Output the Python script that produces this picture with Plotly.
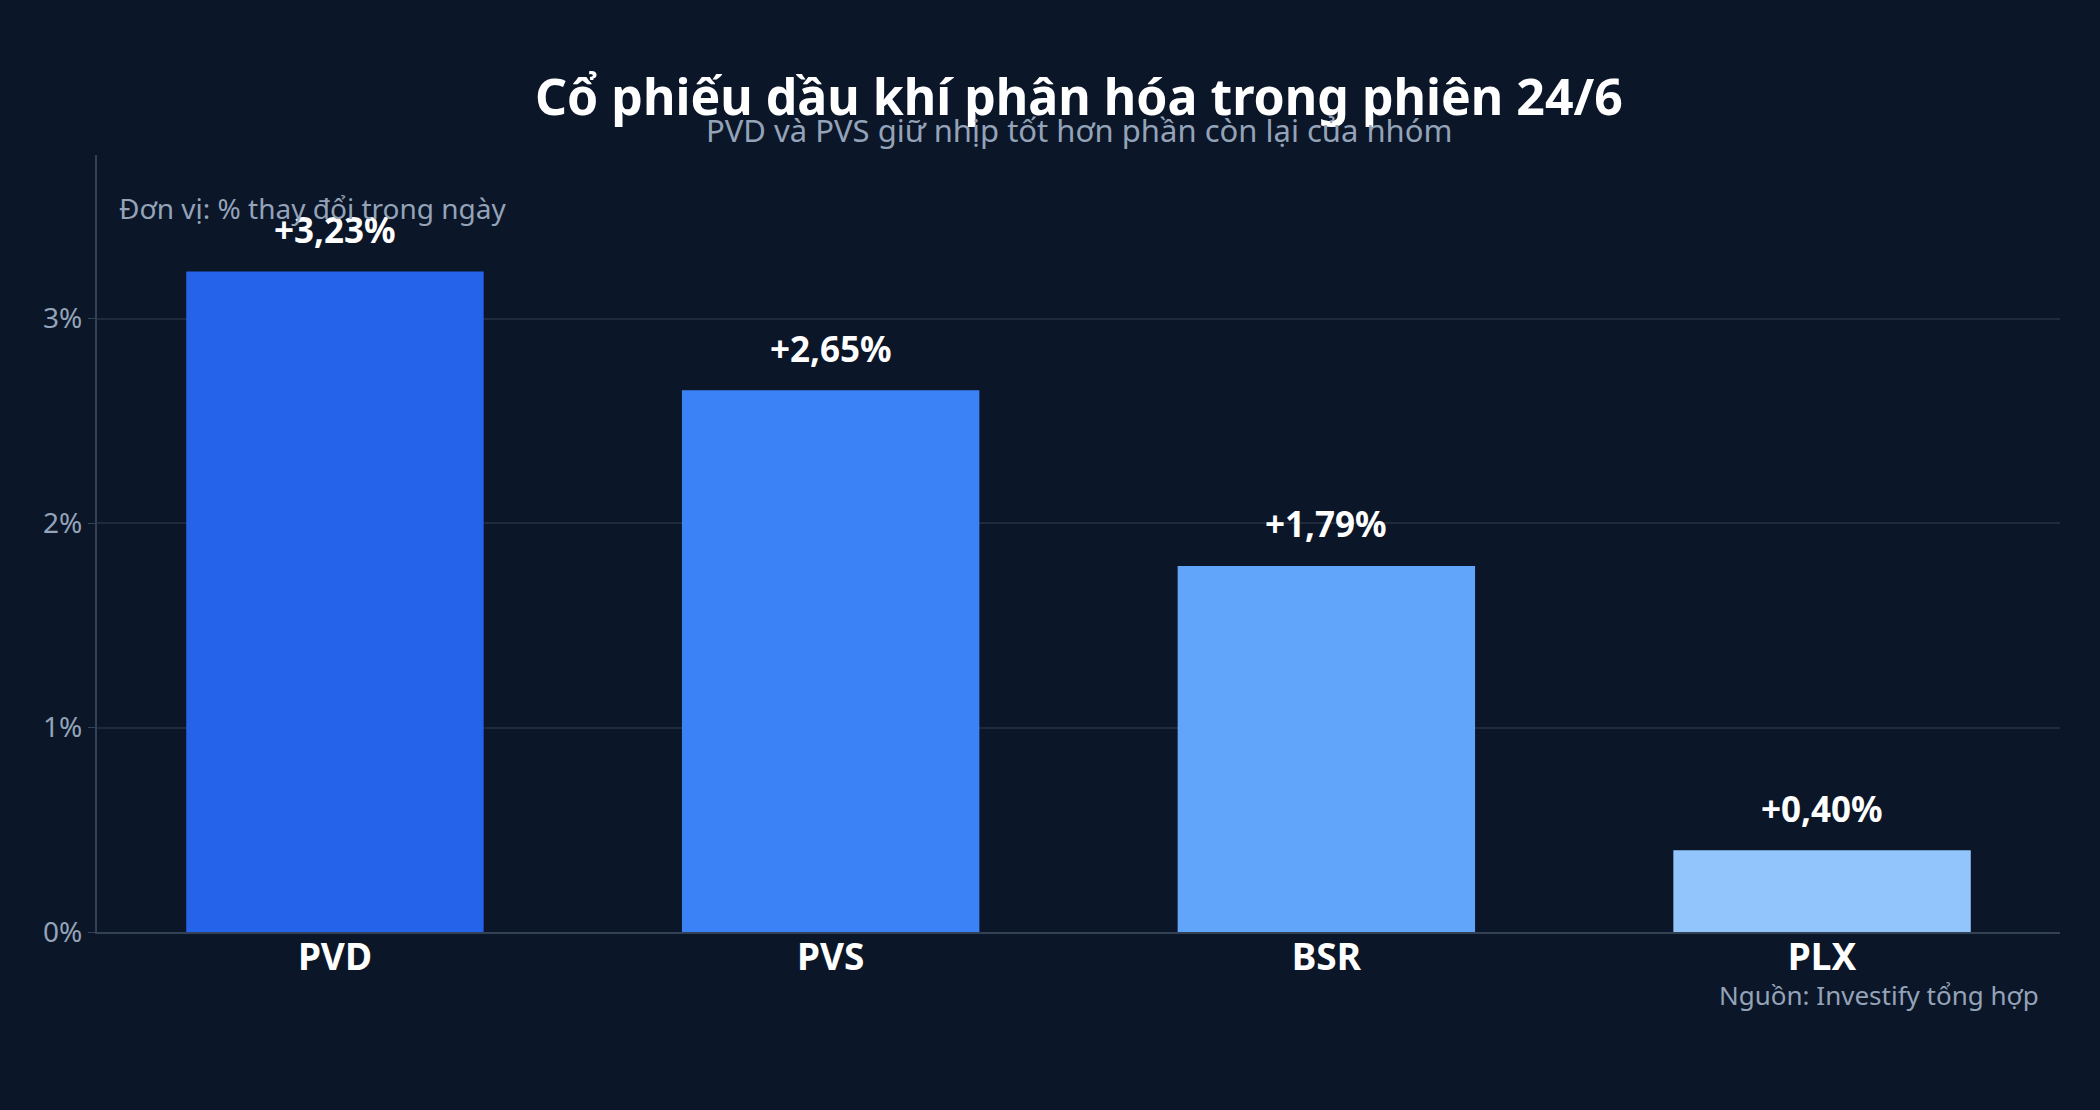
import plotly.graph_objects as go

# Dữ liệu
tickers = ["PVD", "PVS", "BSR", "PLX"]
changes = [3.23, 2.65, 1.79, 0.40]
bar_colors = ["#2563eb", "#3b82f6", "#60a5fa", "#93c5fd"]
y_ticks = [0, 1, 2, 3]
y_tick_labels = ["0%", "1%", "2%", "3%"]

bg = "#0b1628"
font_family = "Noto Sans"
muted = "#94a3b8"

labels = ["+" + f"{v:.2f}".replace(".", ",") + "%" for v in changes]

fig = go.Figure()
fig.add_trace(
    go.Bar(
        x=tickers,
        y=changes,
        marker=dict(color=bar_colors, line=dict(width=0)),
        hoverinfo="skip",
    )
)

# nhãn giá trị phía trên cột
for t, v, lab in zip(tickers, changes, labels):
    fig.add_annotation(
        x=t, y=v, text="<b>" + lab + "</b>",
        showarrow=False, yanchor="middle", yshift=42,
        font=dict(family=font_family, size=35, color="#ffffff"),
    )

fig.add_annotation(
    xref="paper", yref="paper", x=0.5, y=1.0, yshift=59,
    text="<b>Cổ phiếu dầu khí phân hóa trong phiên 24/6</b>",
    showarrow=False, xanchor="center", yanchor="middle",
    font=dict(family=font_family, size=50, color="#ffffff"),
)
fig.add_annotation(
    xref="paper", yref="paper", x=0.5, y=1.0, yshift=25,
    text="PVD và PVS giữ nhịp tốt hơn phần còn lại của nhóm",
    showarrow=False, xanchor="center", yanchor="middle",
    font=dict(family=font_family, size=31, color=muted),
)
fig.add_annotation(
    xref="paper", yref="paper", x=0, y=0.932, xshift=20,
    text="Đơn vị: % thay đổi trong ngày",
    showarrow=False, xanchor="left", yanchor="middle",
    font=dict(family=font_family, size=28, color=muted),
)
fig.add_annotation(
    xref="paper", yref="paper", x=1, y=0, xshift=-19, yshift=-63,
    text="Nguồn: Investify tổng hợp",
    showarrow=False, xanchor="right", yanchor="middle",
    font=dict(family=font_family, size=26, color=muted),
)

fig.update_layout(
    width=2100,
    height=1110,
    paper_bgcolor=bg,
    plot_bgcolor=bg,
    margin=dict(l=97, r=40, t=155, b=178),
    bargap=0.4,
    showlegend=False,
    font=dict(family=font_family, color=muted),
    xaxis=dict(
        range=[-0.48, 3.48],
        showgrid=False,
        showline=True,
        linecolor="#334155",
        linewidth=2,
        ticks="",
        ticklabelstandoff=-8,
        tickfont=dict(family=font_family, size=37, color="#ffffff", weight="bold"),
    ),
    yaxis=dict(
        range=[0, 3.8],
        tickvals=y_ticks,
        ticktext=y_tick_labels,
        showgrid=True,
        gridcolor="#1f2b3d",
        gridwidth=1.5,
        zeroline=False,
        showline=True,
        linecolor="#334155",
        linewidth=2,
        ticks="outside",
        ticklen=7,
        tickcolor="#334155",
        tickfont=dict(family=font_family, size=28, color=muted),
    ),
)

fig.write_html(
    "out.html",
    config={"displayModeBar": False},
    post_script="document.body.style.margin='0';document.body.style.background='" + bg + "';",
)
